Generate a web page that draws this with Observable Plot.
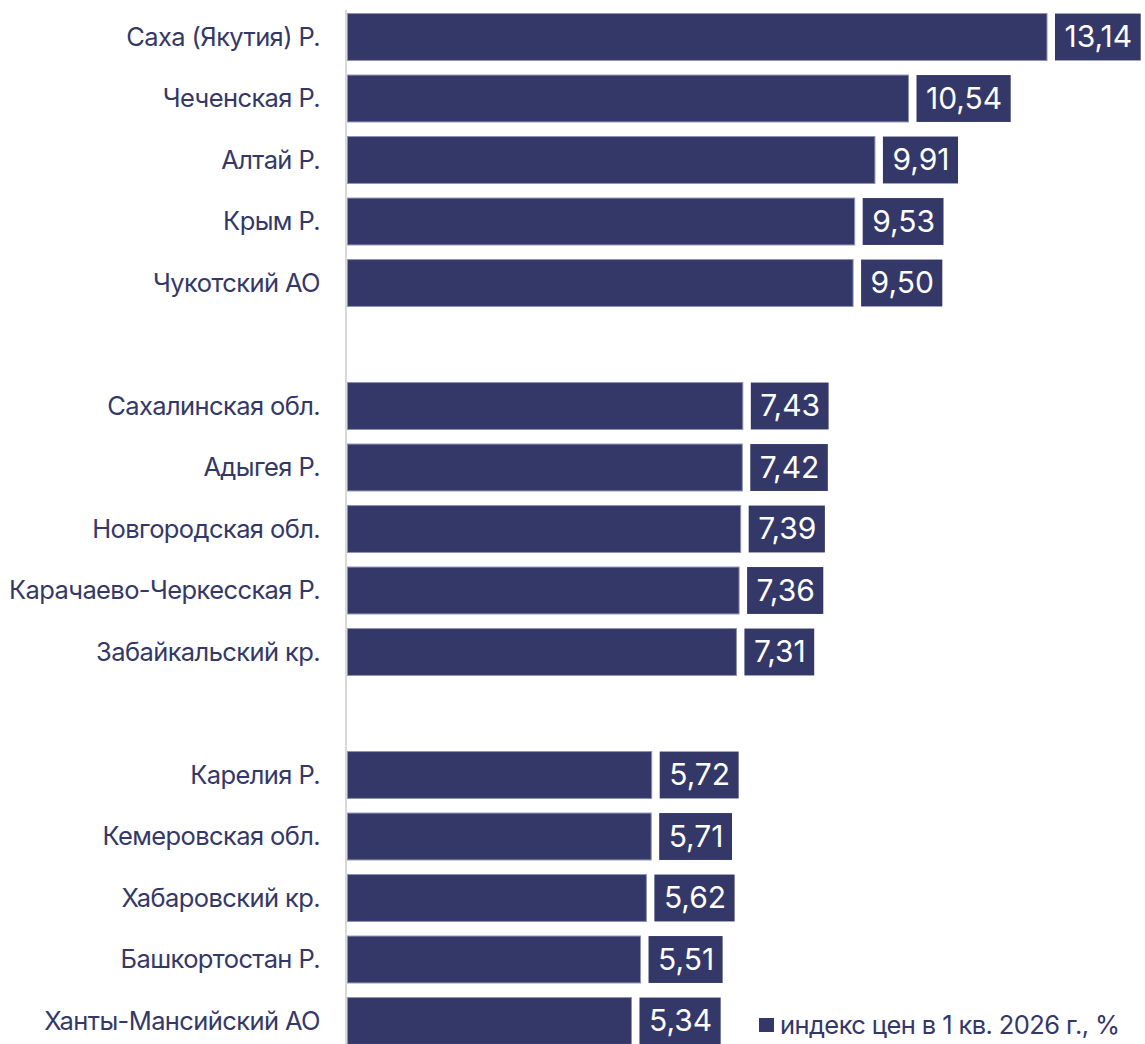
<!DOCTYPE html>
<html>
<head>
<meta charset="utf-8">
<script src="https://cdn.jsdelivr.net/npm/d3@7"></script>
<script src="https://cdn.jsdelivr.net/npm/@observablehq/plot@0.6"></script>
<style>
  html, body { margin: 0; padding: 0; background: #fff; }
  body { width: 1145px; height: 1044px; overflow: hidden; position: relative; font-family: Inter, "Noto Sans", sans-serif; }
  #chart svg { display: block; overflow: visible; }
  .legend { position: absolute; left: 759px; top: 1009px; height: 30px; font-size: 25.5px; color: #343868; display: flex; align-items: center; white-space: nowrap; letter-spacing: -0.6px; }
  .legend .sw { width: 15px; height: 14px; background: #343868; margin-right: 6px; margin-top: 2px; }
</style>
</head>
<body>
<div id="chart"></div>
<div class="legend"><span class="sw"></span><span id="legtext"></span></div>
<script>
const regions = [
  "Саха (Якутия) Р.", "Чеченская Р.", "Алтай Р.", "Крым Р.", "Чукотский АО",
  "Сахалинская обл.", "Адыгея Р.", "Новгородская обл.", "Карачаево-Черкесская Р.", "Забайкальский кр.",
  "Карелия Р.", "Кемеровская обл.", "Хабаровский кр.", "Башкортостан Р.", "Ханты-Мансийский АО"
];
const values = [13.14, 10.54, 9.91, 9.53, 9.50, 7.43, 7.42, 7.39, 7.36, 7.31, 5.72, 5.71, 5.62, 5.51, 5.34];
const groups = [0, 0, 0, 0, 0, 1, 1, 1, 1, 1, 2, 2, 2, 2, 2];
const seriesName = "индекс цен в 1 кв. 2026 г., %";

document.getElementById("legtext").textContent = seriesName;

const fmt = v => v.toFixed(2).replace(".", ",");
const color = "#343868";
const valueFont = "30px Inter";
const ctx = document.createElement("canvas").getContext("2d");
ctx.font = valueFont;

// pixel geometry of x scale
const x0px = 347, x1px = 1047, xMax = 13.14;
const pxPerUnit = (x1px - x0px) / xMax;
const gapPx = 8, padPx = 9;

const data = regions.map((r, i) => {
  const label = fmt(values[i]);
  const w = ctx.measureText(label).width;
  return {
    region: r, value: values[i], group: groups[i], label,
    boxStart: values[i] + gapPx / pxPerUnit,
    boxEnd: values[i] + (gapPx + 2 * padPx + w) / pxPerUnit
  };
});

// domain with blank spacer rows between groups
const domain = [];
regions.forEach((r, i) => {
  if (i > 0 && groups[i] !== groups[i - 1]) domain.push("__gap" + groups[i]);
  domain.push(r);
});

const step = 61.5;
const inset = 7.3;
const firstCenter = 37;

const plot = Plot.plot({
  width: 1145,
  height: 1044,
  marginLeft: 346,
  marginRight: 0,
  marginTop: 0,
  marginBottom: 0,
  style: {fontFamily: "Inter, 'Noto Sans', sans-serif", color: color, background: "transparent"},
  x: {domain: [0, xMax], range: [x0px, x1px], axis: null},
  y: {domain, range: [firstCenter - step / 2, firstCenter - step / 2 + step * domain.length], padding: 0, round: false, axis: null},
  marks: [
    Plot.ruleX([0], {dx: -1.5, stroke: "#d9d9d9", strokeWidth: 2}),
    Plot.barX(data, {y: "region", x: "value", fill: color, stroke: "#8d91b6", strokeWidth: 1, insetLeft: 0.5, insetTop: inset, insetBottom: inset}),
    Plot.rectX(data, {y: "region", x1: "boxStart", x2: "boxEnd", fill: color, insetTop: inset, insetBottom: inset}),
    Plot.text(data, {y: "region", x: 0, text: "region", textAnchor: "end", dx: -27.5, fontSize: 25.5, fill: color}),
    Plot.text(data, {y: "region", x: "boxStart", text: "label", textAnchor: "start", dx: padPx, fontSize: 30, fill: "#ffffff"})
  ]
});
document.getElementById("chart").appendChild(plot);

// vertical axis line: from just above first bar down to the bottom
d3.select(plot).selectAll("line").attr("y1", 10).attr("y2", 1044);
// tighter tracking for the category labels
d3.select(plot).selectAll("text").filter(function () { return this.getAttribute("fill") === color || d3.select(this.parentNode).attr("fill") === color; })
  .attr("letter-spacing", "-0.6px");
</script>
</body>
</html>
